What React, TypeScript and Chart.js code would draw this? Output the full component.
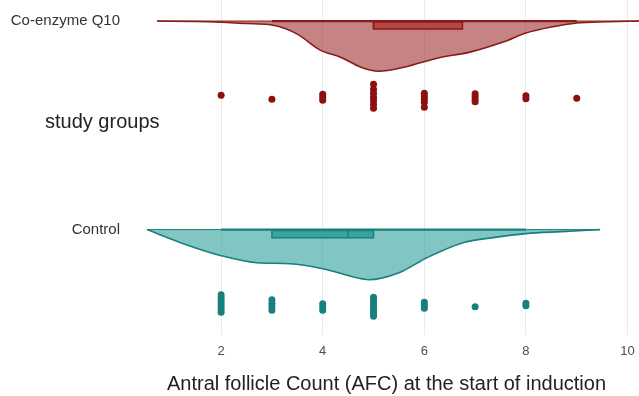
import React, { useEffect, useRef } from "react";
import { Chart, registerables } from "chart.js";

Chart.register(...registerables);

// ---------- data ----------
const groups = ["Co-enzyme Q10", "Control"];
const xTicks = [2, 4, 6, 8, 10];
const xAxisTitle = "Antral follicle Count (AFC) at the start of induction";
const yAxisTitle = "study groups";

// half-eye density curves (AFC value, relative density with peak = 1)
const coenzymeDensityX = [0.74, 1.5, 2.0, 2.5, 3.0, 3.5, 3.95, 4.35, 4.75, 5.1, 5.6, 6.25, 6.9, 7.55, 8.0, 8.5, 9.0, 9.6, 10.23];
const coenzymeDensityY = [0, 0.01, 0.025, 0.05, 0.08, 0.26, 0.58, 0.72, 0.92, 1.0, 0.92, 0.74, 0.62, 0.42, 0.24, 0.12, 0.04, 0.015, 0];
const controlDensityX = [0.54, 1.2, 2.0, 2.7, 3.35, 4.0, 4.67, 4.9, 5.5, 6.05, 6.76, 7.35, 8.0, 8.7, 9.46];
const controlDensityY = [0, 0.26, 0.52, 0.66, 0.68, 0.78, 0.96, 1.0, 0.86, 0.56, 0.26, 0.16, 0.08, 0.04, 0];

// box stats: [lower whisker, Q1, median, Q3, upper whisker]
const coenzymeBox = [3, 5, 5, 6.75, 9];
const controlBox = [2, 3, 4.5, 5, 8];

// individual observations and their vertical jitter
const coenzymeAfc = [2, 3, 4, 4, 4, 5, 5, 5, 5, 5, 5, 5, 6, 6, 6, 6, 6, 7, 7, 7, 7, 8, 8, 9];
const coenzymeJitter = [-0.04, 0.04, -0.06, 0, 0.06, -0.26, -0.16, -0.08, 0, 0.06, 0.14, 0.22, -0.08, -0.02, 0.04, 0.1, 0.2, -0.07, -0.02, 0.04, 0.09, -0.03, 0.03, 0.02];
const controlAfc = [2, 2, 2, 2, 2, 2, 2, 3, 3, 3, 3, 4, 4, 4, 5, 5, 5, 5, 5, 5, 5, 5, 6, 6, 6, 7, 8, 8];
const controlJitter = [-0.18, -0.12, -0.06, 0, 0.06, 0.12, 0.17, -0.08, -0.01, 0.06, 0.13, 0, 0.06, 0.13, -0.13, -0.076, -0.022, 0.032, 0.086, 0.14, 0.196, 0.25, -0.03, 0.03, 0.09, 0.06, -0.01, 0.04];

// ---------- layout (y axis units, reversed) ----------
const Y_MAX = 6.69;
const CO_BASE = 0.42;
const CO_DOTS = 1.94;
const CT_BASE = 4.58;
const CT_DOTS = 6.06;
const BOX_TOP = 0.02;
const BOX_BOTTOM = 0.16;
const STUDY_Y = 2.44;

const CO_LINE = "rgb(139,26,26)";
const CO_FILL = "rgba(150,30,30,0.55)";
const CO_BOX = "rgb(180,72,72)";
const CO_DOT = "rgb(140,16,16)";
const CT_LINE = "rgb(24,128,126)";
const CT_FILL = "rgba(28,152,146,0.55)";
const CT_BOX = "rgb(58,163,158)";
const CT_DOT = "rgb(22,128,126)";

const FONT = '"Liberation Sans", Arial, sans-serif';

function slab(xs: number[], ds: number[], base: number) {
  return xs.map((x, i) => ({ x, y: base + ds[i] }));
}
function boxShape(st: number[], base: number) {
  const t = base + BOX_TOP;
  const b = base + BOX_BOTTOM;
  return [
    { x: st[1], y: t },
    { x: st[3], y: t },
    { x: st[3], y: b },
    { x: st[1], y: b },
    { x: st[1], y: t },
  ];
}

function groupDatasets(
  dx: number[], dy: number[], st: number[], afc: number[], jit: number[],
  base: number, dotsRow: number, line: string, fill: string, boxFill: string, dot: string
) {
  return [
    {
      label: "slab",
      data: slab(dx, dy, base),
      borderColor: line,
      backgroundColor: fill,
      borderWidth: 1.6,
      fill: { value: base },
      pointRadius: 0,
      cubicInterpolationMode: "monotone",
      order: 5,
    },
    {
      label: "baseline",
      data: [{ x: dx[0], y: base }, { x: dx[dx.length - 1], y: base }],
      borderColor: line,
      borderWidth: 1,
      fill: false,
      pointRadius: 0,
      order: 4,
    },
    {
      label: "whisker",
      data: [{ x: st[0], y: base }, { x: st[4], y: base }],
      borderColor: line,
      borderWidth: 2.2,
      fill: false,
      pointRadius: 0,
      order: 3,
    },
    {
      label: "box",
      data: boxShape(st, base),
      borderColor: line,
      backgroundColor: boxFill,
      borderWidth: 1.5,
      fill: "shape",
      pointRadius: 0,
      tension: 0,
      order: 2,
    },
    {
      label: "median",
      data: [{ x: st[2], y: base + BOX_TOP }, { x: st[2], y: base + BOX_BOTTOM }],
      borderColor: line,
      borderWidth: 1.5,
      fill: false,
      pointRadius: 0,
      order: 1,
    },
    {
      label: "points",
      data: afc.map((x, i) => ({ x, y: dotsRow + jit[i] })),
      showLine: false,
      pointRadius: 3.5,
      pointBorderWidth: 0,
      pointBackgroundColor: dot,
      pointBorderColor: dot,
      order: 0,
    },
  ];
}

const labelPlugin = {
  id: "groupLabels",
  afterDraw(chart: any) {
    const ctx = chart.ctx;
    const y = chart.scales.y;
    const left = chart.chartArea.left;
    ctx.save();
    ctx.fillStyle = "#333333";
    ctx.font = `15px ${FONT}`;
    ctx.textAlign = "right";
    ctx.textBaseline = "middle";
    ctx.fillText(groups[0], left - 14, y.getPixelForValue(CO_BASE));
    ctx.fillText(groups[1], left - 14, y.getPixelForValue(CT_BASE));
    ctx.font = `20px ${FONT}`;
    ctx.fillStyle = "#222222";
    ctx.textAlign = "left";
    ctx.fillText(yAxisTitle, 45, y.getPixelForValue(STUDY_Y));
    ctx.restore();
  },
};

export default function App() {
  const ref = useRef<HTMLCanvasElement | null>(null);
  useEffect(() => {
    if (!ref.current) return;
    const datasets: any[] = [
      ...groupDatasets(coenzymeDensityX, coenzymeDensityY, coenzymeBox, coenzymeAfc, coenzymeJitter,
        CO_BASE, CO_DOTS, CO_LINE, CO_FILL, CO_BOX, CO_DOT),
      ...groupDatasets(controlDensityX, controlDensityY, controlBox, controlAfc, controlJitter,
        CT_BASE, CT_DOTS, CT_LINE, CT_FILL, CT_BOX, CT_DOT),
    ];
    const chart = new Chart(ref.current, {
      type: "line",
      data: { datasets },
      options: {
        responsive: false,
        animation: false,
        events: [],
        layout: { autoPadding: false, padding: { left: 134, right: 0, top: 0, bottom: 0 } },
        plugins: { legend: { display: false }, tooltip: { enabled: false } },
        scales: {
          x: {
            type: "linear",
            min: 0.285,
            max: 10.226,
            afterBuildTicks: (scale: any) => {
              scale.ticks = xTicks.map((v) => ({ value: v }));
            },
            grid: {
              color: "#ebebeb",
              lineWidth: 1,
              drawTicks: true,
              tickLength: 8,
              tickColor: "rgba(0,0,0,0)",
            },
            border: { display: false },
            ticks: {
              padding: 0,
              color: "#4d4d4d",
              font: { family: FONT, size: 13 },
              callback: (v: any) => String(v),
            },
            title: {
              display: true,
              text: xAxisTitle,
              color: "#222222",
              font: { family: FONT, size: 20 },
              padding: { top: 13, bottom: 0 },
            },
          },
          y: {
            type: "linear",
            display: false,
            reverse: true,
            min: 0,
            max: Y_MAX,
          },
        },
      },
      plugins: [labelPlugin],
    } as any);
    return () => chart.destroy();
  }, []);
  return (
    <div style={{ position: "fixed", left: 0, top: 0, width: 639, height: 396, background: "#fff" }}>
      <canvas ref={ref} width={639} height={396} style={{ display: "block" }} />
    </div>
  );
}
